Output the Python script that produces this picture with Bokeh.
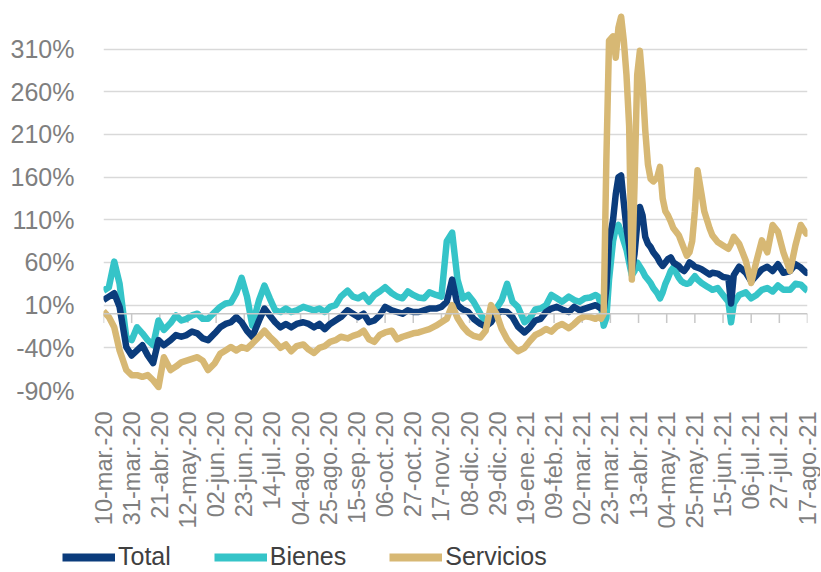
from bokeh.plotting import figure
from bokeh.layouts import column
from bokeh.models import Range1d, FixedTicker, PrintfTickFormatter, Span, Legend, LegendItem, ColumnDataSource
from bokeh.embed import file_html
from bokeh.resources import INLINE

# x values: days since 10-mar-2020
days = [0, 4, 8, 12, 17, 21, 25, 29, 33, 37, 41, 45, 50, 54, 58, 62, 66, 70, 74, 78, 83, 87,
        91, 95, 99, 103, 107, 111, 116, 120, 124, 128, 132, 136, 140, 144, 149, 153, 157, 161, 165, 169,
        173, 177, 182, 186, 190, 194, 198, 202, 206, 210, 215, 219, 223, 227, 231, 235, 239, 243, 248, 252, 256,
        260, 264, 268, 272, 276, 281, 285, 289, 293, 297, 301, 305, 309, 314, 318, 322, 326, 330, 334, 338,
        342, 347, 351, 355, 359, 363, 367,
        369, 371, 373, 375, 377, 380, 382, 384, 386, 388, 390, 392, 394, 396, 398, 400, 402, 404, 406, 408,
        410, 413, 415, 417, 419, 421, 423, 425, 427, 429, 431, 433, 435, 437, 439, 441, 443, 446, 448, 450,
        452, 454,
        458, 462, 466, 468, 470, 474, 479, 483, 487, 491, 495, 499, 503, 507, 512, 516, 520, 524, 525]

total = [16, 20, 24, 8, -39, -49, -43, -37, -49, -58, -31, -37, -31, -25, -27, -25, -21, -23, -29, -31, -23, -16,
         -12, -10, -4, -10, -20, -27, -8, 6, -2, -10, -16, -12, -16, -12, -10, -12, -16, -12, -18, -12,
         -8, -4, 4, 0, -4, 0, -10, -8, -2, 8, 4, 2, 0, 4, 2, 2, 4, 6, 6, 8, 14,
         40, 10, 5, 2, -6, -12, -15, -10, 0, 3, 2, -4, -15, -22, -16, -8, -6, 2, 6, 8, 5, 2, 8, 4, 6, 8, 10,
         8, 6, 4, 30, 85, 110, 140, 160, 162, 130, 100, 80, 50, 70, 105, 125, 115, 90, 82, 78,
         72, 66, 60, 56, 60, 64, 66, 60, 58, 56, 52, 50, 54, 60, 58, 55, 54, 52, 50, 48, 46, 48,
         47, 43, 42, 12, 45, 55, 48, 38, 45, 52, 55, 50, 58, 48, 50, 58, 54, 48, 50]

bienes = [27, 31, 61, 35, -28, -31, -16, -23, -31, -37, -8, -19, -11, -2, -8, -6, -2, 0, -6, -6, 2, 8,
          12, 13, 24, 42, 20, -14, 16, 33, 18, 4, 2, 6, 2, 4, 8, 6, 4, 6, 2, 8,
          10, 20, 27, 20, 18, 22, 14, 22, 26, 31, 24, 20, 18, 26, 22, 19, 18, 25, 22, 20, 85,
          95, 40, 18, 22, 14, 0, -10, -6, 6, 16, 35, 14, 8, -10, -5, 5, 6, 10, 22, 18, 14, 20, 16, 14, 18, 19, 22,
          20, 10, -14, -5, 40, 85, 100, 104, 95, 85, 75, 60, 45, 50, 60, 55, 50, 44, 40, 36,
          30, 24, 18, 25, 35, 42, 50, 54, 48, 42, 38, 36, 35, 36, 40, 44, 40, 36, 34, 32, 30, 28,
          30, 22, 14, -10, 12, 22, 25, 18, 22, 28, 30, 26, 33, 28, 28, 35, 34, 28, 27]

servicios = [3, -4, -16, -43, -66, -72, -72, -74, -72, -78, -86, -51, -66, -62, -57, -55, -53, -51, -55, -66, -58, -47,
             -43, -39, -43, -39, -41, -35, -27, -20, -27, -33, -40, -36, -44, -38, -36, -42, -46, -40, -38, -33,
             -31, -27, -29, -26, -24, -20, -30, -33, -25, -22, -20, -30, -27, -25, -23, -22, -20, -18, -14, -10, -6,
             10, -5, -15, -22, -26, -28, -20, 10, 0, -18, -30, -38, -44, -40, -32, -25, -22, -18, -21, -15, -12, -17,
             -12, -6, -3, -4, -6,
             -4, -6, 0, 180, 320, 325, 300, 335, 348, 320, 280, 220, 40, 150, 280, 308, 270, 215, 175, 158,
             155, 160, 172, 135, 120, 115, 108, 100, 96, 92, 84, 76, 68, 72, 85, 120, 168, 140, 120, 110,
             100, 92,
             84, 80, 76, 82, 90, 82, 62, 36, 62, 86, 72, 104, 96, 72, 50, 80, 104, 94, 98]

tick_days = [0, 21, 42, 63, 84, 105, 126, 147, 168, 189, 210, 231, 252, 273, 294, 315, 336, 357,
             378, 399, 420, 441, 462, 483, 504, 525]
tick_labels = ["10-mar.-20", "31-mar.-20", "21-abr.-20", "12-may.-20", "02-jun.-20", "23-jun.-20",
               "14-jul.-20", "04-ago.-20", "25-ago.-20", "15-sep.-20", "06-oct.-20", "27-oct.-20",
               "17-nov.-20", "08-dic.-20", "29-dic.-20", "19-ene.-21", "09-feb.-21", "02-mar.-21",
               "23-mar.-21", "13-abr.-21", "04-may.-21", "25-may.-21", "15-jun.-21", "06-jul.-21",
               "27-jul.-21", "17-ago.-21"]
y_ticks = [-90, -40, 10, 60, 110, 160, 210, 260, 310]
series_names = ["Total", "Bienes", "Servicios"]

assert len(days) == len(total) == len(bienes) == len(servicios)

FONT = "Liberation Sans"
GRAY = "#7f7f7f"
C_TOTAL = "#0b3c7c"
C_BIENES = "#35c4c8"
C_SERV = "#d7b874"
LW = 6.5

src = ColumnDataSource(dict(x=days, total=total, bienes=bienes, servicios=servicios))

p = figure(width=820, height=533, output_backend="svg", toolbar_location=None,
           x_range=Range1d(0, 525), y_range=Range1d(-90, 367),
           min_border_left=103, min_border_right=13, min_border_top=0, min_border_bottom=143)
p.outline_line_color = None
p.background_fill_color = "white"
p.border_fill_color = "white"
p.frame_align = False

# y axis
p.yaxis.ticker = FixedTicker(ticks=y_ticks)
p.yaxis.formatter = PrintfTickFormatter(format="%d%%")
p.yaxis.axis_line_color = None
p.yaxis.major_tick_line_color = None
p.yaxis.minor_tick_line_color = None
p.yaxis.major_label_standoff = 23
p.yaxis.major_label_text_font = FONT
p.yaxis.major_label_text_font_size = "25px"
p.yaxis.major_label_text_color = GRAY

# x axis
p.xaxis.ticker = FixedTicker(ticks=tick_days)
p.xaxis.major_label_overrides = {d: lab for d, lab in zip(tick_days, tick_labels)}
p.xaxis.major_label_orientation = 1.5707963
p.xaxis.axis_line_color = None
p.xaxis.major_tick_line_color = None
p.xaxis.minor_tick_line_color = None
p.xaxis.major_label_standoff = 15
p.xaxis.major_label_text_font = FONT
p.xaxis.major_label_text_font_size = "23.5px"
p.xaxis.major_label_text_color = GRAY

p.xgrid.grid_line_color = None
p.ygrid.ticker = FixedTicker(ticks=y_ticks)
p.ygrid.grid_line_color = "#d9d9d9"
p.ygrid.grid_line_width = 1.5

# zero line with tick marks
p.add_layout(Span(location=0, dimension="width", line_color="#c8c8c8", line_width=1.5))
p.segment(x0=tick_days, y0=[0] * len(tick_days), x1=tick_days, y1=[-11] * len(tick_days),
          line_color="#c8c8c8", line_width=1.5)

p.line("x", "bienes", source=src, line_color=C_BIENES, line_width=LW, line_join="round")
p.line("x", "total", source=src, line_color=C_TOTAL, line_width=LW, line_join="round")
p.line("x", "servicios", source=src, line_color=C_SERV, line_width=LW, line_join="round")

# legend row beneath the chart (same series, drawn off-range so only the legend shows)
lg = figure(width=820, height=39, output_backend="svg", toolbar_location=None,
            x_axis_type=None, y_axis_type=None, x_range=Range1d(1000, 1001), y_range=Range1d(1000, 1001),
            min_border_left=0, min_border_right=0, min_border_top=0, min_border_bottom=0)
lg.outline_line_color = None
lg.xgrid.grid_line_color = None
lg.ygrid.grid_line_color = None
lg.frame_align = False
items = []
for name, col, colr in zip(series_names, ["total", "bienes", "servicios"], [C_TOTAL, C_BIENES, C_SERV]):
    r = lg.line("x", col, source=src, line_color=colr, line_width=8)
    items.append(LegendItem(label=name, renderers=[r]))
legend = Legend(items=items, orientation="horizontal", location=(62, 1),
                glyph_width=53, glyph_height=24, label_standoff=3, spacing=43,
                padding=0, margin=0, border_line_color=None, background_fill_alpha=0,
                label_text_font=FONT, label_text_font_size="25px", label_text_color="#404040")
lg.add_layout(legend, "center")

layout = column(p, lg, spacing=0)
open("out.html", "w").write(file_html(layout, INLINE))
